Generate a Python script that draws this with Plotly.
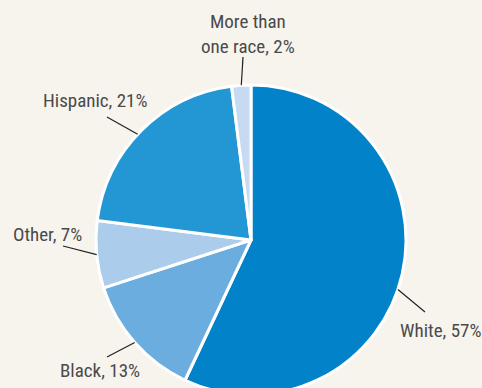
import math
import plotly.graph_objects as go

# Data
categories = ["White", "Black", "Other", "Hispanic", "More than<br>one race"]
values = [57, 13, 7, 21, 2]
colors = ["#0282c8", "#6badde", "#abcdeb", "#2397d4", "#c6dbf2"]

W, H = 482, 400
CX, CY, R = 251, 240, 155  # pie centre / radius in pixels (layout)


def paper(x, y):
    return x / W, (H - y) / H


fig = go.Figure(go.Pie(
    labels=categories,
    values=values,
    sort=False,
    direction="clockwise",
    rotation=0,
    marker=dict(colors=colors, line=dict(color="white", width=3)),
    textinfo="none",
    hoverinfo="skip",
    showlegend=False,
    domain=dict(x=[(CX - R) / W, (CX + R) / W],
                y=[(H - CY - R) / H, (H - CY + R) / H]),
))

# label text positions (layout) and leader-line tail points
label_pos = [
    dict(tx=440, ty=330, lx=425, ly=312, adj=6),
    dict(tx=100, ty=370, lx=107, ly=357, adj=0),
    dict(tx=47, ty=234, lx=63, ly=246, adj=0),
    dict(tx=95, ty=101, lx=107, ly=117, adj=-2),
    dict(tx=248, ty=34, lx=243, ly=57, adj=0),
]

total = sum(values)
cum = 0
shapes = []
annotations = []
for cat, v, p in zip(categories, values, label_pos):
    mid = (cum + v / 2) / total * 360 + p["adj"]
    cum += v
    hx = CX + R * math.sin(math.radians(mid))
    hy = CY - R * math.cos(math.radians(mid))
    x0, y0 = paper(p["lx"], p["ly"])
    x1, y1 = paper(hx, hy)
    shapes.append(dict(type="line", xref="paper", yref="paper",
                       x0=x0, y0=y0, x1=x1, y1=y1,
                       line=dict(color="#222222", width=1.2)))
    ax, ay = paper(p["tx"], p["ty"])
    annotations.append(dict(text=f"{cat}, {v}%", x=ax, y=ay,
                            xref="paper", yref="paper", showarrow=False,
                            xanchor="center", yanchor="middle",
                            align="center"))

fig.update_layout(
    width=W, height=H,
    margin=dict(l=0, r=0, t=0, b=0),
    paper_bgcolor="#f7f4ee",
    plot_bgcolor="#f7f4ee",
    font=dict(family="Liberation Sans Narrow, Roboto Condensed, Arial Narrow, sans-serif",
              size=19, color="#4a4a4a"),
    shapes=shapes,
    annotations=annotations,
)

fig.write_html("out.html", config={"displayModeBar": False})
